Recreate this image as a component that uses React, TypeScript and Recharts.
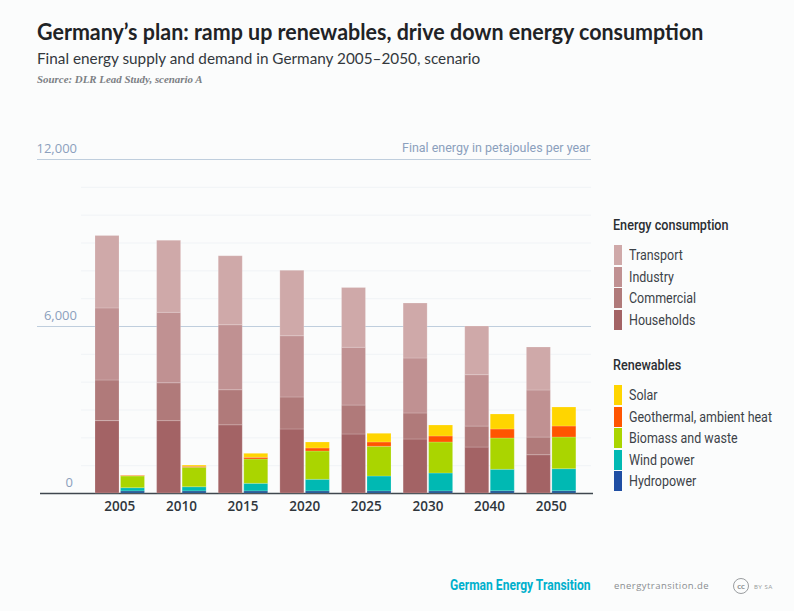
import { Bar, BarChart, CartesianGrid, XAxis, YAxis } from 'recharts';

const years = ['2005', '2010', '2015', '2020', '2025', '2030', '2040', '2050'];

const households = [2600, 2600, 2450, 2300, 2120, 1940, 1650, 1375];
const commercial = [1460, 1360, 1260, 1150, 1040, 935, 755, 635];
const industry = [2590, 2530, 2335, 2200, 2075, 1975, 1845, 1690];
const transport = [2600, 2590, 2480, 2350, 2150, 1975, 1750, 1545];

const hydropower = [75, 75, 75, 75, 75, 75, 80, 80];
const windPower = [115, 150, 273, 417, 536, 644, 772, 793];
const biomass = [420, 700, 874, 1017, 1067, 1114, 1124, 1139];
const geothermal = [26, 35, 61, 108, 155, 215, 324, 395];
const solar = [5, 45, 143, 216, 312, 395, 539, 683];

const majorTicks = [0, 6000, 12000];
const majorLines = [6000, 12000];
const minorLines = [1000, 2000, 3000, 4000, 5000, 7000, 8000, 9000, 10000, 11000];
const baseLine = [0];

const consumptionLegend = [
  { name: 'Transport', color: '#cfa9a9' },
  { name: 'Industry', color: '#c09192' },
  { name: 'Commercial', color: '#b07a7a' },
  { name: 'Households', color: '#a36365' },
];

const renewablesLegend = [
  { name: 'Solar', color: '#ffd500' },
  { name: 'Geothermal, ambient heat', color: '#ff5500' },
  { name: 'Biomass and waste', color: '#aad500' },
  { name: 'Wind power', color: '#00b9b3' },
  { name: 'Hydropower', color: '#1f4ea3' },
];

const data = years.map((year, i) => ({
  year,
  households: households[i],
  commercial: commercial[i],
  industry: industry[i],
  transport: transport[i],
  hydropower: hydropower[i],
  windPower: windPower[i],
  biomass: biomass[i],
  geothermal: geothermal[i],
  solar: solar[i],
}));

const sans = 'Lato, "Open Sans", sans-serif';
const narrow = 'Roboto, sans-serif';
const axisFont = '"Open Sans", sans-serif';

const text = (
  left: number,
  top: number,
  size: number,
  color: string,
  extra: React.CSSProperties = {},
): React.CSSProperties => ({
  position: 'absolute',
  left,
  top,
  fontSize: size,
  color,
  lineHeight: `${size + 4}px`,
  whiteSpace: 'nowrap',
  fontFamily: sans,
  ...extra,
});

// the reference uses a condensed face, so squeeze Roboto
const squeeze = (k: number, family = narrow): React.CSSProperties => ({
  fontFamily: family,
  transform: `scaleX(${k})`,
  transformOrigin: 'left center',
});

function YTick({ y, payload }: any) {
  return (
    <text x={payload.value === 0 ? 73 : 77} y={y - 6} textAnchor="end" fontSize={13} fill="#8ba0bd" fontFamily={axisFont}>
      {payload.value.toLocaleString('en-US')}
    </text>
  );
}

function XTick({ x, y, payload }: any) {
  return (
    <text x={x} y={y + 10} textAnchor="middle" fontSize={13.5} fill="#2f363c" fontFamily={axisFont} fontWeight={600}>
      {payload.value}
    </text>
  );
}

const gridLine = (color: string, from: number, to: number, width = 1) => (props: any) => (
  <line
    key={props.key}
    x1={props.x1 + from}
    x2={props.x2 - to}
    y1={props.y1 + 0.5}
    y2={props.y2 + 0.5}
    stroke={color}
    strokeWidth={width}
  />
);

function LegendGroup({ title, top, items }: { title: string; top: number; items: { name: string; color: string }[] }) {
  return (
    <>
      <div style={text(613, top, 14, '#2b2f33', { ...squeeze(0.9), fontWeight: 500 })}>{title}</div>
      {items.map((item, i) => (
        <div key={item.name}>
          <div
            style={{
              position: 'absolute',
              left: 614,
              top: top + 29 + i * 21.6,
              width: 8,
              height: 20,
              background: item.color,
            }}
          />
          <div style={text(629, top + 30 + i * 21.6, 14, '#3c4248', squeeze(0.89))}>{item.name}</div>
        </div>
      ))}
    </>
  );
}

const barStroke = { stroke: '#ffffff', strokeOpacity: 0.3, strokeWidth: 0.6 };

export default function App() {
  return (
    <div style={{ position: 'absolute', left: 0, top: 0, width: 794, height: 611, background: '#fbfcfc', overflow: 'hidden' }}>
      <div style={text(37, 19, 22, '#1f2326', { ...squeeze(0.975, sans), fontWeight: 700 })}>
        Germany’s plan: ramp up renewables, drive down energy consumption
      </div>
      <div style={text(37, 49, 15.3, '#33383c')}>Final energy supply and demand in Germany 2005–2050, scenario</div>
      <div style={text(37, 72, 10.9, '#7c8084', { fontFamily: '"Liberation Serif", serif', fontStyle: 'italic', fontWeight: 700 })}>
        Source: DLR Lead Study, scenario A
      </div>
      <div style={text(402, 139, 13, '#8ba0bd', squeeze(0.96))}>Final energy in petajoules per year</div>

      <BarChart
        width={794}
        height={611}
        data={data}
        margin={{ top: 159, right: 201, bottom: 88, left: 36 }}
        barSize={24}
        barGap={1.5}
        style={{ position: 'absolute', left: 0, top: 0 }}
      >
        <CartesianGrid vertical={false} horizontalValues={minorLines} horizontal={gridLine('#f0f3f6', 44, 2)} />
        <CartesianGrid vertical={false} horizontalValues={majorLines} horizontal={gridLine('#bfcedd', 0, 2)} />
        <XAxis
          dataKey="year"
          height={30}
          axisLine={false}
          tickLine={false}
          padding={{ left: 52, right: 11 }}
          interval={0}
          tick={<XTick />}
        />
        <YAxis
          width={1}
          domain={[0, 12000]}
          ticks={majorTicks}
          interval={0}
          axisLine={false}
          tickLine={false}
          tick={<YTick />}
        />
        <Bar dataKey="households" stackId="demand" fill="#a36365" isAnimationActive={false} {...barStroke} />
        <Bar dataKey="commercial" stackId="demand" fill="#b07a7a" isAnimationActive={false} {...barStroke} />
        <Bar dataKey="industry" stackId="demand" fill="#c09192" isAnimationActive={false} {...barStroke} />
        <Bar dataKey="transport" stackId="demand" fill="#cfa9a9" isAnimationActive={false} {...barStroke} />
        <Bar dataKey="hydropower" stackId="supply" fill="#15508f" isAnimationActive={false} {...barStroke} />
        <Bar dataKey="windPower" stackId="supply" fill="#00b9b3" isAnimationActive={false} {...barStroke} />
        <Bar dataKey="biomass" stackId="supply" fill="#aad500" isAnimationActive={false} {...barStroke} />
        <Bar dataKey="geothermal" stackId="supply" fill="#ff5500" isAnimationActive={false} {...barStroke} />
        <Bar dataKey="solar" stackId="supply" fill="#ffd500" isAnimationActive={false} {...barStroke} />
        <CartesianGrid vertical={false} horizontalValues={baseLine} horizontal={gridLine('#3f474e', 3, 0, 1.5)} />
      </BarChart>

      <LegendGroup title="Energy consumption" top={216} items={consumptionLegend} />
      <LegendGroup title="Renewables" top={356} items={renewablesLegend} />

      <div style={text(450, 576, 14, '#00b0cc', { ...squeeze(0.862), fontWeight: 700 })}>German Energy Transition</div>
      <div style={text(614, 579, 9.5, '#8a8d90', { fontFamily: axisFont, letterSpacing: 0.45 })}>
        energytransition.de
      </div>
      <div
        style={text(733, 578, 8, '#8a8d90', {
          width: 14,
          height: 14,
          lineHeight: '14px',
          border: '1.5px solid #9a9da0',
          borderRadius: '50%',
          textAlign: 'center',
          fontWeight: 700,
        })}
      >
        cc
      </div>
      <div style={text(754, 582, 6, '#9a9da0', { letterSpacing: 0.6 })}>BY SA</div>
    </div>
  );
}
